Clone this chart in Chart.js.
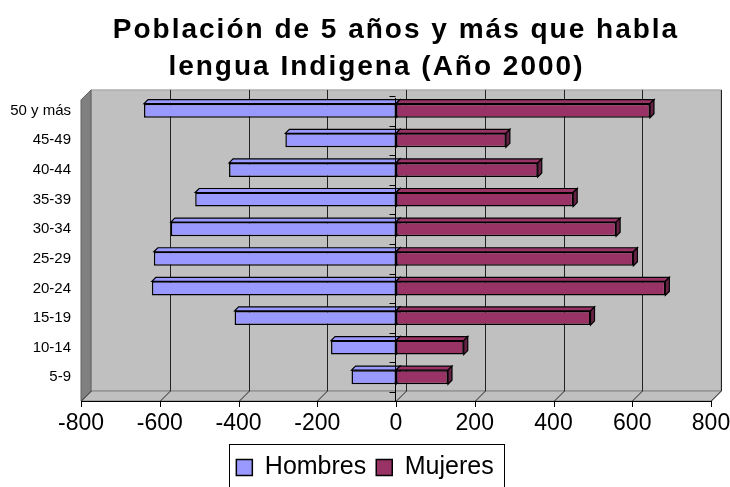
<!DOCTYPE html>
<html><head><meta charset="utf-8">
<script src="https://cdn.jsdelivr.net/npm/chart.js@4/dist/chart.umd.min.js"></script>
<style>html,body{margin:0;padding:0;background:#fff}</style>
</head><body>
<canvas id="c" width="730" height="487"></canvas>
<script>
const categories = ['50 y más','45-49','40-44','35-39','30-34','25-29','20-24','15-19','10-14','5-9'];
const hombres = [-640, -281, -424, -510, -572, -615, -620, -410, -165, -113];
const mujeres = [645, 279, 360, 450, 559, 603, 684, 494, 172, 132];
const xTickValues = [-800, -600, -400, -200, 0, 200, 400, 600, 800];
const seriesNames = ['Hombres', 'Mujeres'];
const titleLines = ['Población de 5 años y más que habla', 'lengua Indigena (Año 2000)    '];

const FONT = "'Liberation Sans', Arial, sans-serif";
const DEPTH = 10;     // wall depth
const BDEPTH = 4;     // bar depth

function poly(ctx, pts, fill, stroke) {
  ctx.beginPath();
  ctx.moveTo(pts[0][0], pts[0][1]);
  for (let i = 1; i < pts.length; i++) ctx.lineTo(pts[i][0], pts[i][1]);
  ctx.closePath();
  if (fill) { ctx.fillStyle = fill; ctx.fill(); }
  if (stroke) { ctx.strokeStyle = stroke; ctx.stroke(); }
}

function withSpacing(chart, obj, spacing) {
  if (!obj || obj._spaced) return;
  const orig = obj.draw;
  obj.draw = function (...args) {
    const c = chart.ctx;
    const prev = c.letterSpacing;
    c.letterSpacing = spacing;
    orig.apply(this, args);
    c.letterSpacing = prev || '0px';
  };
  obj._spaced = true;
}

const plot3d = {
  id: 'plot3d',
  beforeDraw(chart) {
    withSpacing(chart, chart.titleBlock, '2px');
  },
  beforeDatasetsDraw(chart) {
    const {ctx, chartArea: a, scales: {x}} = chart;
    const ff = a.bottom + 9, bb = a.bottom - 1, bt = a.top - 6;
    const bl = a.left + DEPTH, br = a.right + DEPTH;
    ctx.save();
    ctx.lineWidth = 1;
    poly(ctx, [[bl, bt], [br, bt], [br, bb], [bl, bb]], '#C0C0C0', '#9A9A9A');
    poly(ctx, [[a.left, bt + DEPTH], [bl, bt], [bl, bb], [a.left, ff]], '#808080', '#606060');
    poly(ctx, [[a.left, ff], [bl, bb], [br, bb], [a.right, ff]], '#C0C0C0', '#808080');
    ctx.strokeStyle = '#222';
    xTickValues.forEach(v => {
      const px = Math.round(x.getPixelForValue(v)) + 0.5;
      ctx.beginPath();
      if (v > xTickValues[0]) { ctx.moveTo(px + DEPTH, bt); ctx.lineTo(px + DEPTH, bb); }
      ctx.moveTo(px, ff); ctx.lineTo(px + DEPTH, bb);
      ctx.stroke();
    });
    ctx.lineWidth = 1.2;
    const faceCols = [['#9999FF', '#7777CC'], ['#993366', '#662244']];
    [0, 1].forEach(di => {
      chart.getDatasetMeta(di).data.forEach(el => {
        const p = el.getProps(['x', 'y', 'base', 'height'], true);
        const l = Math.min(p.x, p.base), r = Math.max(p.x, p.base);
        const t = p.y - p.height / 2, b = p.y + p.height / 2;
        poly(ctx, [[l, t], [l + BDEPTH, t - BDEPTH], [r + BDEPTH, t - BDEPTH], [r, t]], faceCols[di][0], '#000');
        poly(ctx, [[r, t], [r + BDEPTH, t - BDEPTH], [r + BDEPTH, b - BDEPTH], [r, b]], faceCols[di][1], '#000');
      });
    });
    ctx.restore();
  },
  afterDatasetsDraw(chart) {
    const {ctx, chartArea: a, scales: {x, y}} = chart;
    const ff = a.bottom + 9;
    ctx.save();
    ctx.strokeStyle = '#000';
    ctx.lineWidth = 1;
    const x0 = Math.round(x.getPixelForValue(0)) - 0.5;
    ctx.beginPath();
    ctx.moveTo(x0, a.top + 2); ctx.lineTo(x0, ff);
    const step = y.getPixelForValue(1) - y.getPixelForValue(0);
    for (let i = 0; i <= categories.length; i++) {
      const py = Math.round(y.getPixelForValue(i) - step / 2) + 0.5;
      ctx.moveTo(x0 - 6, py); ctx.lineTo(x0, py);
    }
    ctx.stroke();
    ctx.beginPath();
    ctx.moveTo(a.left, ff + 0.5); ctx.lineTo(a.right, ff + 0.5);
    xTickValues.forEach(v => {
      const px = Math.round(x.getPixelForValue(v)) + 0.5;
      ctx.moveTo(px, ff); ctx.lineTo(px, ff + 6);
    });
    ctx.stroke();
    ctx.restore();
  },
  afterDraw(chart) {
    const lg = chart.legend;
    if (!lg || !lg.legendHitBoxes.length) return;
    const hb = lg.legendHitBoxes;
    const left = Math.min(...hb.map(b => b.left)) - 7;
    const right = Math.max(...hb.map(b => b.left + b.width)) + 11;
    const ctx = chart.ctx;
    ctx.save();
    ctx.strokeStyle = '#000';
    ctx.lineWidth = 1;
    ctx.strokeRect(Math.round(left) + 0.5, Math.round(lg.top - 1) + 0.5, Math.round(right - left), 60);
    ctx.restore();
  }
};

Chart.defaults.color = '#000';
Chart.defaults.font.family = FONT;

new Chart(document.getElementById('c'), {
  type: 'bar',
  data: {
    labels: categories,
    datasets: [
      { label: seriesNames[0], data: hombres, backgroundColor: '#9999FF', borderColor: '#000', borderWidth: 1.5, borderSkipped: false, barPercentage: 0.95, categoryPercentage: 0.5 },
      { label: seriesNames[1], data: mujeres, backgroundColor: '#993366', borderColor: '#000', borderWidth: 1.5, borderSkipped: false, barPercentage: 0.95, categoryPercentage: 0.5 }
    ]
  },
  options: {
    indexAxis: 'y',
    responsive: false,
    devicePixelRatio: 1,
    animation: false,
    layout: { padding: { left: 0, right: 0, top: 0, bottom: -3 } },
    plugins: {
      tooltip: { enabled: false },
      title: {
        display: true,
        fullSize: false,
        text: titleLines,
        color: '#000',
        font: { family: FONT, size: 28, weight: 'bold', lineHeight: 1.32 },
        padding: { top: 11.5, bottom: 10.5 }
      },
      legend: {
        position: 'bottom',
        labels: {
          color: '#000',
          font: { family: FONT, size: 25 },
          boxWidth: 16, boxHeight: 16, padding: 10
        }
      }
    },
    scales: {
      x: {
        stacked: true,
        min: -800, max: 800,
        afterBuildTicks: s => { s.ticks = xTickValues.map(v => ({ value: v })); },
        grid: { display: false, drawTicks: false },
        border: { display: false },
        ticks: { font: { family: FONT, size: 23 }, color: '#000', padding: 18, maxRotation: 0 },
        afterFit: s => { s.height = 53; s.paddingLeft = 0; s.paddingRight = 19; }
      },
      y: {
        stacked: true,
        grid: { display: false, drawTicks: false },
        border: { display: false },
        ticks: { font: { family: FONT, size: 15 }, color: '#000', padding: 10 },
        afterFit: s => { s.width = 81; }
      }
    }
  },
  plugins: [plot3d]
});
</script>
</body></html>
